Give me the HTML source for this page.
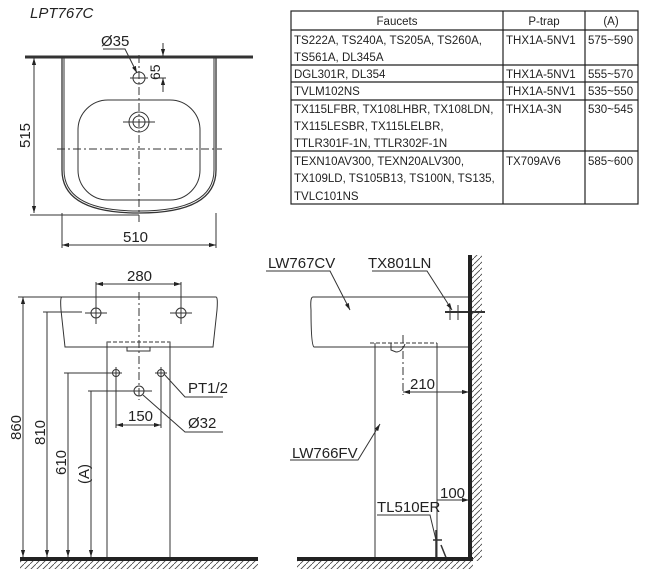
<!DOCTYPE html><html><head><style>body{margin:0;background:#fff}svg{display:block}text{font-family:"Liberation Sans",sans-serif;fill:#222}</style></head><body>
<svg width="650" height="580" xmlns="http://www.w3.org/2000/svg">
<defs><marker id="a" viewBox="0 0 10 10" refX="10" refY="5" markerWidth="7" markerHeight="7" orient="auto-start-reverse"><path d="M0,2 L10,5 L0,8z" fill="#222"/></marker>
<pattern id="h" width="6" height="6" patternUnits="userSpaceOnUse"><path d="M0,6 L6,0" stroke="#444" stroke-width="0.8"/></pattern></defs>
<g stroke="#333" fill="none" stroke-width="1">
<!-- top view -->
<line x1="25" y1="57" x2="253" y2="57" stroke-width="3"/>
<path d="M62,57 V170 Q62,213 139,213 Q216,213 216,170 V57" stroke-width="1.3"/>
<path d="M64,57 V170 Q64,211 139,211 Q214,211 214,170 V57"/>
<rect x="78" y="100" width="122" height="100" rx="30"/>
<circle cx="139" cy="122" r="10"/><circle cx="139" cy="122" r="6"/>
<line x1="123" y1="122" x2="155" y2="122"/>
<circle cx="139" cy="78" r="6"/><line x1="130" y1="78" x2="148" y2="78"/>
<line x1="139" y1="55" x2="139" y2="222" stroke-dasharray="8,3,2,3"/>
<line x1="57" y1="149" x2="222" y2="149" stroke-dasharray="8,3,2,3"/>
<line x1="30" y1="215" x2="139" y2="215"/>
<line x1="34" y1="58" x2="34" y2="213" marker-start="url(#a)" marker-end="url(#a)"/>
<line x1="62" y1="213" x2="62" y2="248"/><line x1="216" y1="213" x2="216" y2="248"/>
<line x1="62" y1="245" x2="216" y2="245" marker-start="url(#a)" marker-end="url(#a)"/>
<line x1="163" y1="43" x2="163" y2="56" marker-end="url(#a)"/><line x1="163" y1="78" x2="163" y2="92" marker-start="url(#a)"/>
<line x1="152" y1="78" x2="166" y2="78"/>
<path d="M103,49 H125 L137,73" marker-end="url(#a)"/>
<!-- front view -->
<path d="M62,297 H216 Q218,297 217,310 L213,347 H65 L61,310 Q60,297 62,297"/>
<rect x="107" y="342" width="63" height="216"/>
<line x1="107" y1="342" x2="170" y2="342" stroke="#fff" stroke-width="1.5"/>
<line x1="107" y1="342" x2="170" y2="342" stroke-dasharray="4,2"/>
<path d="M127,347 V351 H150 V347"/>
<circle cx="96" cy="313" r="5"/><line x1="85" y1="313" x2="107" y2="313"/><line x1="96" y1="302" x2="96" y2="324"/>
<circle cx="181" cy="313" r="5"/><line x1="170" y1="313" x2="192" y2="313"/><line x1="181" y1="302" x2="181" y2="324"/>
<line x1="139" y1="292" x2="139" y2="400" stroke-dasharray="8,3,2,3"/>
<circle cx="116" cy="373" r="3.5"/><line x1="110" y1="373" x2="122" y2="373"/><line x1="116" y1="367" x2="116" y2="428"/>
<circle cx="161" cy="373" r="3.5"/><line x1="155" y1="373" x2="167" y2="373"/><line x1="161" y1="367" x2="161" y2="428"/>
<circle cx="139" cy="391" r="5"/><line x1="125" y1="391" x2="152" y2="391"/>
<line x1="116" y1="425" x2="161" y2="425" marker-start="url(#a)" marker-end="url(#a)"/>
<line x1="96" y1="313" x2="96" y2="282"/><line x1="181" y1="313" x2="181" y2="282"/>
<line x1="96" y1="284" x2="181" y2="284" marker-start="url(#a)" marker-end="url(#a)"/>
<line x1="18" y1="297" x2="62" y2="297"/>
<line x1="23" y1="297" x2="23" y2="557" marker-start="url(#a)" marker-end="url(#a)"/>
<line x1="43" y1="312" x2="82" y2="312"/><line x1="47" y1="312" x2="47" y2="557" marker-end="url(#a)"/>
<line x1="64" y1="373" x2="110" y2="373"/><line x1="68" y1="373" x2="68" y2="557" marker-end="url(#a)"/>
<line x1="88" y1="391" x2="125" y2="391"/><line x1="91" y1="391" x2="91" y2="557" marker-end="url(#a)"/>
<path d="M164,374 L185,397 H223" /><path d="M143,395 L185,432 H223"/>
<!-- side view -->
<path d="M313,297 H470 M313,297 Q310,297 311,310 Q311,345 314,347 H470" />
<path d="M375,343 V560 M437,343 V560"/>
<path d="M370,343 H437" stroke-dasharray="4,2"/>
<path d="M391,343 V350 L396,352 Q402,352 405,344"/>
<line x1="403" y1="335" x2="403" y2="395" stroke-dasharray="8,3,2,3"/>
<line x1="403" y1="392" x2="469" y2="392" marker-start="url(#a)" marker-end="url(#a)"/>
<line x1="437" y1="500" x2="469" y2="500" marker-end="url(#a)"/>
<line x1="445" y1="312" x2="485" y2="312" stroke-width="2"/>
<path d="M450,305 V320 M458,305 V320"/>
<path d="M372,271 H427 L452,310" marker-end="url(#a)"/>
<path d="M266,271 H330 L350,310" marker-end="url(#a)"/>
<path d="M290,460 H358 L380,424" marker-end="url(#a)"/>
<path d="M377,515 H430 L436,540"/>
<path d="M436,530 V560 M433,540 H442 M441,545 L447,560" stroke-width="1.5"/>
</g>
<rect x="20" y="557" width="238" height="4" fill="#222"/>
<rect x="20" y="561" width="238" height="8" fill="url(#h)"/>
<rect x="297" y="557" width="176" height="4" fill="#222"/>
<rect x="297" y="561" width="176" height="8" fill="url(#h)"/>
<rect x="468" y="255" width="4" height="306" fill="#222"/>
<rect x="472" y="255" width="10" height="306" fill="url(#h)"/>
<g font-size="15">
<text x="30" y="18" font-style="italic" font-size="15" fill="#555">LPT767C</text>
<text x="101" y="46">Ø35</text>
<text x="160" y="80" transform="rotate(-90 160 80)" font-size="14">65</text>
<text x="30" y="148" transform="rotate(-90 30 148)">515</text>
<text x="123" y="242">510</text>
<text x="127" y="281">280</text>
<text x="21" y="440" transform="rotate(-90 21 440)">860</text>
<text x="45" y="445" transform="rotate(-90 45 445)">810</text>
<text x="66" y="475" transform="rotate(-90 66 475)">610</text>
<text x="89" y="484" transform="rotate(-90 89 484)">(A)</text>
<text x="128" y="421">150</text>
<text x="188" y="393">PT1/2</text>
<text x="188" y="428">Ø32</text>
<text x="268" y="268">LW767CV</text>
<text x="368" y="268">TX801LN</text>
<text x="410" y="389">210</text>
<text x="292" y="458">LW766FV</text>
<text x="440" y="498">100</text>
<text x="377" y="512">TL510ER</text>
</g>
<g stroke="#222" stroke-width="1.2">
<rect x="291" y="11" width="347" height="193" fill="none"/>
<line x1="291" y1="30" x2="638" y2="30"/><line x1="291" y1="65" x2="638" y2="65"/>
<line x1="291" y1="82" x2="638" y2="82"/><line x1="291" y1="100" x2="638" y2="100"/>
<line x1="291" y1="151" x2="638" y2="151"/>
<line x1="503" y1="11" x2="503" y2="204"/><line x1="585" y1="11" x2="585" y2="204"/>
</g>
<g font-size="11.5">
<text x="397" y="25" text-anchor="middle">Faucets</text><text x="544" y="25" text-anchor="middle">P-trap</text><text x="611" y="25" text-anchor="middle">(A)</text>
<text x="294" y="44">TS222A, TS240A, TS205A, TS260A,</text><text x="294" y="61">TS561A, DL345A</text>
<text x="506" y="44">THX1A-5NV1</text><text x="588" y="44">575~590</text>
<text x="294" y="78">DGL301R, DL354</text><text x="506" y="78">THX1A-5NV1</text><text x="588" y="78">555~570</text>
<text x="294" y="95">TVLM102NS</text><text x="506" y="95">THX1A-5NV1</text><text x="588" y="95">535~550</text>
<text x="294" y="113">TX115LFBR, TX108LHBR, TX108LDN,</text><text x="294" y="130">TX115LESBR, TX115LELBR,</text><text x="294" y="147">TTLR301F-1N, TTLR302F-1N</text>
<text x="506" y="113">THX1A-3N</text><text x="588" y="113">530~545</text>
<text x="294" y="165">TEXN10AV300, TEXN20ALV300,</text><text x="294" y="182">TX109LD, TS105B13, TS100N, TS135,</text><text x="294" y="200">TVLC101NS</text>
<text x="506" y="165">TX709AV6</text><text x="588" y="165">585~600</text>
</g>
</svg></body></html>
